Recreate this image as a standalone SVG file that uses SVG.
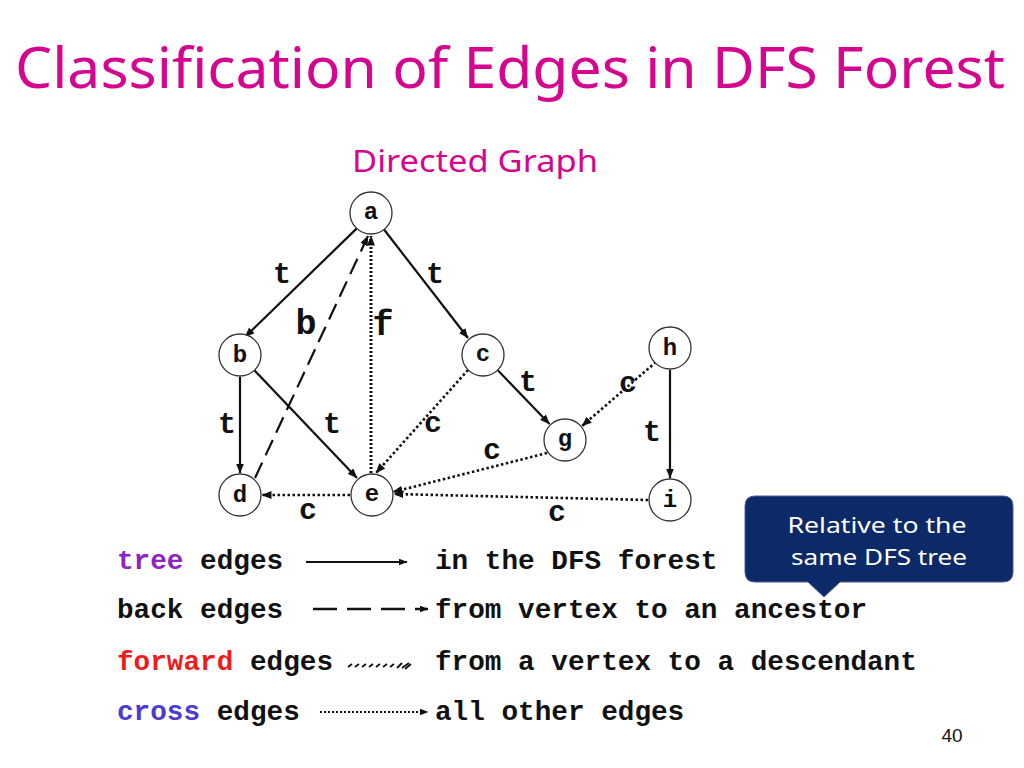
<svg xmlns="http://www.w3.org/2000/svg" width="1024" height="768" viewBox="0 0 1024 768">
<defs>
<marker id="ah" markerWidth="10" markerHeight="8" refX="9.5" refY="4" orient="auto" markerUnits="userSpaceOnUse">
<path d="M0,0 L10,4 L0,8 Z" fill="#111"/>
</marker>
<marker id="ahs" markerWidth="9" markerHeight="7" refX="8.5" refY="3.5" orient="auto" markerUnits="userSpaceOnUse">
<path d="M0,0 L9,3.5 L0,7 Z" fill="#111"/>
</marker>
</defs>
<style>
.title{font-family:"Comic Sans MS","Noto Sans","DejaVu Sans",sans-serif;fill:#d4068f}
.node circle{fill:#fff;stroke:#333;stroke-width:1.3}
.node text{font-family:"Liberation Mono","Courier New",monospace;font-weight:bold;font-size:24px;fill:#111;text-anchor:middle}
.lbl{font-family:"Liberation Mono","Courier New",monospace;font-weight:bold;font-size:30px;fill:#111;text-anchor:middle}
.big{font-size:35px}
.tree{stroke:#111;stroke-width:2.2;fill:none;marker-end:url(#ah)}
.back{stroke:#111;stroke-width:2.2;fill:none;stroke-dasharray:17 8;marker-end:url(#ah)}
.fwd{stroke:#111;stroke-width:3;fill:none;stroke-dasharray:2 2;marker-end:url(#ah)}
.cross{stroke:#111;stroke-width:2.6;fill:none;stroke-dasharray:2.5 2.5;marker-end:url(#ah)}
.leg{font-family:"Liberation Mono","Courier New",monospace;font-weight:bold;font-size:27.7px;fill:#111}
.callout text{font-family:"Comic Sans MS","Noto Sans","DejaVu Sans",sans-serif;font-size:22px;fill:#fff;text-anchor:middle}
</style>
<rect width="1024" height="768" fill="#fff"/>
<text class="title" x="15" y="88" font-size="57" textLength="990" lengthAdjust="spacingAndGlyphs">Classification of Edges in DFS Forest</text>
<text class="title" x="352" y="172" font-size="31" textLength="246" lengthAdjust="spacingAndGlyphs">Directed Graph</text>

<g id="connectors">
<line class="tree" x1="356.8" y1="228.4" x2="245" y2="337"/>
<line class="tree" x1="384" y1="229.5" x2="468" y2="338"/>
<line class="tree" x1="240" y1="377" x2="240" y2="473"/>
<line class="tree" x1="254.4" y1="370.3" x2="357" y2="478"/>
<line class="tree" x1="497.6" y1="370.1" x2="549.5" y2="424"/>
<line class="tree" x1="670" y1="370" x2="670" y2="478"/>
<line class="back" x1="255" y1="478" x2="368" y2="236"/>
<line class="fwd" x1="371" y1="473" x2="371" y2="236"/>
<line class="cross" x1="468" y1="370" x2="376" y2="473"/>
<line class="cross" x1="656" y1="362" x2="582" y2="426"/>
<line class="cross" x1="547" y1="453" x2="393" y2="492"/>
<line class="cross" x1="648" y1="500" x2="394" y2="494"/>
<line class="cross" x1="350" y1="495" x2="262" y2="495"/>
</g>

<g id="edge-labels">
<text class="lbl" x="282" y="283">t</text>
<text class="lbl" x="435" y="283">t</text>
<text class="lbl big" x="306" y="334">b</text>
<text class="lbl big" x="383" y="335">f</text>
<text class="lbl" x="227" y="433">t</text>
<text class="lbl" x="332" y="433">t</text>
<text class="lbl" x="433" y="432">c</text>
<text class="lbl" x="528" y="391">t</text>
<text class="lbl" x="628" y="392">c</text>
<text class="lbl" x="492" y="459">c</text>
<text class="lbl" x="652" y="441">t</text>
<text class="lbl" x="308" y="519">c</text>
<text class="lbl" x="557" y="521">c</text>
</g>

<g id="node-a" class="node"><circle cx="371" cy="213" r="21"/><text x="371" y="219">a</text></g>
<g id="node-b" class="node"><circle cx="240" cy="355" r="21"/><text x="240" y="362">b</text></g>
<g id="node-c" class="node"><circle cx="483" cy="355" r="21"/><text x="483" y="361">c</text></g>
<g id="node-h" class="node"><circle cx="670" cy="348" r="21"/><text x="670" y="355">h</text></g>
<g id="node-g" class="node"><circle cx="565" cy="440" r="21"/><text x="565" y="446">g</text></g>
<g id="node-d" class="node"><circle cx="240" cy="495" r="21"/><text x="240" y="502">d</text></g>
<g id="node-e" class="node"><circle cx="372" cy="495" r="21"/><text x="372" y="501">e</text></g>
<g id="node-i" class="node"><circle cx="670" cy="500" r="21"/><text x="670" y="507">i</text></g>

<g id="legend">
<text class="leg" x="117" y="569"><tspan fill="#8e24c4">tree</tspan> edges</text>
<text class="leg" x="117" y="618">back edges</text>
<text class="leg" x="117" y="670"><tspan fill="#ee1c1c">forward</tspan> edges</text>
<text class="leg" x="117" y="720"><tspan fill="#4b3ccf">cross</tspan> edges</text>
<text class="leg" x="435" y="569">in the DFS forest</text>
<text class="leg" x="435" y="618">from vertex to an ancestor</text>
<text class="leg" x="435" y="670">from a vertex to a descendant</text>
<text class="leg" x="435" y="720">all other edges</text>
<line x1="306" y1="562" x2="407" y2="562" stroke="#111" stroke-width="2" marker-end="url(#ahs)"/>
<line x1="313" y1="609" x2="428" y2="609" stroke="#111" stroke-width="2.6" stroke-dasharray="24 10" marker-end="url(#ahs)"/>
<path d="M348,667 l4,-3 M355,667 l4,-3 M362,667 l4,-3 M369,667 l4,-3 M376,667 l4,-3 M383,667 l4,-3 M390,667 l4,-3 M397,668 l5,-5 M402,668 l7,-5 M405,669 l6,-5" stroke="#111" stroke-width="1.8" fill="none"/>
<line x1="320" y1="712" x2="428" y2="712" stroke="#111" stroke-width="2" stroke-dasharray="2 2" marker-end="url(#ahs)"/>
</g>

<g id="callout" class="callout">
<path d="M755,496 H1003 Q1013,496 1013,506 V572 Q1013,582 1003,582 H840 L824,597 L808,582 H755 Q745,582 745,572 V506 Q745,496 755,496 Z" fill="#0c2a67" stroke="#4a5c8f" stroke-width="1"/>
<text x="877" y="533" textLength="179" lengthAdjust="spacingAndGlyphs">Relative to the</text>
<text x="879" y="565" textLength="176" lengthAdjust="spacingAndGlyphs">same DFS tree</text>
</g>

<text x="952" y="742" font-family="Liberation Sans, Arial, sans-serif" font-size="19" fill="#111" text-anchor="middle">40</text>
</svg>
